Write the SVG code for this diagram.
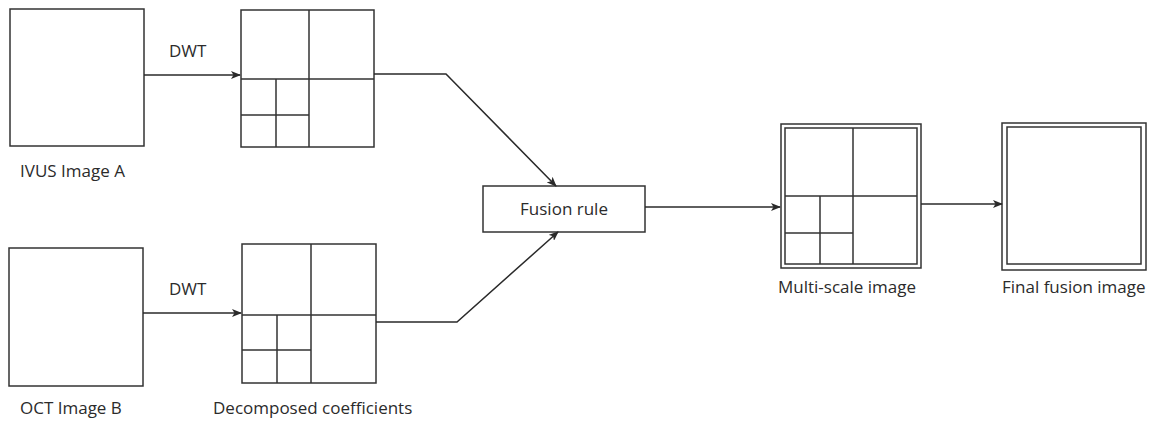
<svg xmlns="http://www.w3.org/2000/svg" width="1153" height="421" viewBox="0 0 1153 421">
  <defs>
    <style>
      .box { fill: #ffffff; stroke: #333333; stroke-width: 1.5; }
      .grid { fill: none; stroke: #333333; stroke-width: 1.5; }
      .wire { fill: none; stroke: #2a2a2a; stroke-width: 1.5; }
      .label { font-family: "Open Sans", "Noto Sans", sans-serif; font-size: 17px; fill: #2b2b2b; }
    </style>
    <marker id="arrow" viewBox="0 0 10 8" refX="9" refY="4" markerWidth="10" markerHeight="8" markerUnits="userSpaceOnUse" orient="auto">
      <path d="M0,0 L10,4 L0,8 L2.5,4 z" fill="#2a2a2a"/>
    </marker>
  </defs>

  <!-- source images -->
  <g id="ivus-image">
    <rect class="box" x="10" y="9" width="134" height="137"/>
    <text class="label" x="20" y="177">IVUS Image A</text>
  </g>
  <g id="oct-image">
    <rect class="box" x="9" y="248" width="134" height="138"/>
    <text class="label" x="20" y="414">OCT Image B</text>
  </g>

  <!-- two-level wavelet decompositions -->
  <g id="coeff-a">
    <rect class="box" x="241" y="10" width="133" height="137"/>
    <path class="grid" d="M309,10 V147 M241,79 H374 M276,79 V147 M241,115 H309"/>
  </g>
  <g id="coeff-b">
    <rect class="box" x="242" y="244" width="134" height="139"/>
    <path class="grid" d="M311,244 V383 M242,315 H376 M277,315 V383 M242,350 H311"/>
    <text class="label" x="213" y="414">Decomposed coefficients</text>
  </g>

  <g id="fusion-rule">
    <rect class="box" x="483" y="186" width="162" height="46"/>
    <text class="label" x="564" y="215" text-anchor="middle">Fusion rule</text>
  </g>

  <g id="multi-scale">
    <rect class="box" x="781" y="124" width="140" height="144"/>
    <rect class="box" x="785" y="128" width="132" height="136"/>
    <path class="grid" d="M853,128 V264 M785,196 H917 M820,196 V264 M785,233 H853"/>
    <text class="label" x="778" y="293">Multi-scale image</text>
  </g>

  <g id="final-fusion">
    <rect class="box" x="1002" y="123" width="144" height="147"/>
    <rect class="box" x="1007" y="127" width="134" height="137"/>
    <text class="label" x="1002" y="293">Final fusion image</text>
  </g>

  <g id="connectors">
    <path class="wire" d="M144,75 H240" marker-end="url(#arrow)"/>
    <text class="label" x="169" y="57">DWT</text>
    <path class="wire" d="M143,313 H241" marker-end="url(#arrow)"/>
    <text class="label" x="169" y="295">DWT</text>
    <path class="wire" d="M374,74 H446 L556,186" marker-end="url(#arrow)"/>
    <path class="wire" d="M376,322 H457 L558,232" marker-end="url(#arrow)"/>
    <path class="wire" d="M645,207 H780" marker-end="url(#arrow)"/>
    <path class="wire" d="M921,204 H1002" marker-end="url(#arrow)"/>
  </g>
</svg>
